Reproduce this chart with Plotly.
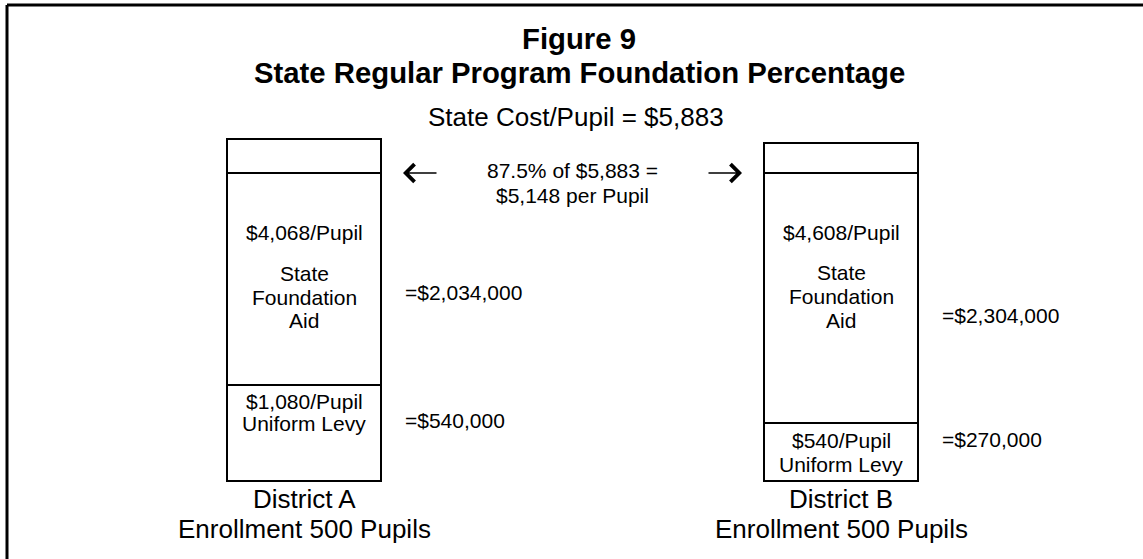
import plotly.graph_objects as go

# ---- data ----
districts = ["District A", "District B"]
enrollment = [500, 500]
state_cost_per_pupil = 5883
foundation_pct = 87.5
foundation_per_pupil = 5148
levy_per_pupil = [1080, 540]
aid_per_pupil = [4068, 4608]
levy_totals = [540000, 270000]
aid_totals = [2034000, 2304000]
# schematic (not-to-scale) segment heights as drawn in the figure
levy_height = [96, 58]
aid_height = [212, 250]
remainder_height = [34, 30]

W, H = 1143, 559
FONT = "Liberation Sans, Arial, sans-serif"

fig = go.Figure()
for name, h in [("Uniform Levy", levy_height), ("State Foundation Aid", aid_height),
                ("Remainder", remainder_height)]:
    fig.add_trace(go.Bar(
        x=districts, y=h, name=name, width=0.2868,
        marker=dict(color="white", line=dict(color="black", width=1.6)),
        hoverinfo="skip", showlegend=False))

Y0 = 481  # pixel of y=0


def py(p):
    return Y0 - p


def px(p):
    return p / W


ann = []


def txt(text, x, y, size, xref="paper", bold=False, xanchor="center"):
    ann.append(dict(text=("<b>%s</b>" % text) if bold else text, x=x, y=py(y),
                    xref=xref, yref="y", showarrow=False, xanchor=xanchor,
                    yanchor="middle", font=dict(family=FONT, size=size, color="black")))


# titles
txt("Figure 9", px(579), 38, 29.3, bold=True)
txt("State Regular Program Foundation Percentage", px(579), 72, 29.3, bold=True)
txt("State Cost/Pupil = $%s" % format(state_cost_per_pupil, ","), px(576), 117, 26)
txt("%.1f%% of $%s =" % (foundation_pct, format(state_cost_per_pupil, ",")), px(572), 170, 21)
txt("$%s per Pupil" % format(foundation_per_pupil, ","), px(572), 195, 21)

aid_y = [[232, 273, 297, 320], [232, 272, 296, 320]]
levy_y = [[401, 423], [440, 464]]
tot_aid_y = [292, 315]
tot_levy_y = [420, 439]
tot_x = [403, 940]
for i, d in enumerate(districts):
    ya = aid_y[i]
    txt("$%s/Pupil" % format(aid_per_pupil[i], ","), i, ya[0], 21, xref="x")
    txt("State", i, ya[1], 21, xref="x")
    txt("Foundation", i, ya[2], 21, xref="x")
    txt("Aid", i, ya[3], 21, xref="x")
    txt("$%s/Pupil" % format(levy_per_pupil[i], ","), i, levy_y[i][0], 21, xref="x")
    txt("Uniform Levy", i, levy_y[i][1], 21, xref="x")
    txt("=$%s" % format(aid_totals[i], ","), px(tot_x[i]), tot_aid_y[i], 21, xanchor="left")
    txt("=$%s" % format(levy_totals[i], ","), px(tot_x[i]), tot_levy_y[i], 21, xanchor="left")
    txt(d, i, 499, 26, xref="x")
    txt("Enrollment %d Pupils" % enrollment[i], i, 529, 26, xref="x")

# arrows pointing at the foundation level (top of aid segment)
for i, (head, tail) in enumerate([(403, 438), (742, 707)]):
    lvl = levy_height[i] + aid_height[i]
    ann.append(dict(x=px(head), y=lvl, ax=tail - head, ay=0, xref="paper", yref="y",
                    axref="pixel", ayref="pixel", showarrow=True, arrowhead=4,
                    arrowsize=2.0, arrowwidth=1.7, arrowcolor="black", text=""))

fig.update_layout(
    width=W, height=H, margin=dict(l=0, r=0, t=0, b=0),
    paper_bgcolor="white", plot_bgcolor="white", barmode="stack",
    xaxis=dict(range=[-304 / 537, (W - 304) / 537], visible=False, fixedrange=True),
    yaxis=dict(range=[-(H - Y0), Y0], visible=False, fixedrange=True),
    annotations=ann,
    shapes=[
        dict(type="line", xref="paper", yref="paper", x0=px(7), x1=1, y0=1 - 5 / H, y1=1 - 5 / H,
             line=dict(color="black", width=3)),
        dict(type="line", xref="paper", yref="paper", x0=px(7), x1=px(7), y0=0, y1=1 - 5 / H,
             line=dict(color="black", width=3)),
    ],
)

fig.write_html("out.html", config={"displayModeBar": False},
               post_script="document.body.style.margin='0';document.body.style.overflow='hidden';")
